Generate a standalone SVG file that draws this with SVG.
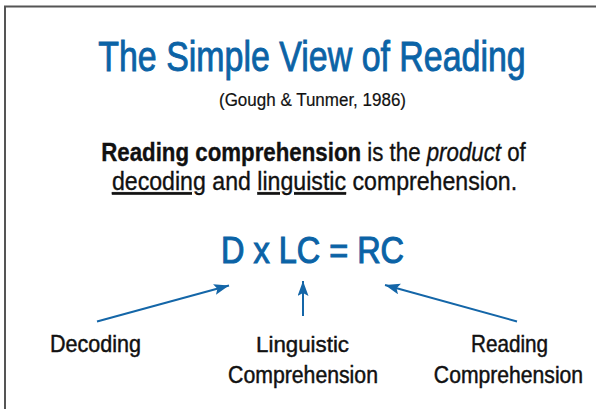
<svg xmlns="http://www.w3.org/2000/svg" width="596" height="409" viewBox="0 0 596 409">
  <style>
    .sans { font-family: "Liberation Sans", Arial, Helvetica, sans-serif; text-anchor: middle; }
    .title { font-size: 42px; fill: #0b63a6; stroke: #0b63a6; stroke-width: 0.9; }
    .cite { font-size: 19px; fill: #111; stroke: #111; stroke-width: 0.2; }
    .body { font-size: 26px; fill: #111; stroke: #111; stroke-width: 0.35; }
    .eq { font-size: 37px; fill: #0b63a6; stroke: #0b63a6; stroke-width: 1.1; }
    .label { font-size: 23px; fill: #111; stroke: #111; stroke-width: 0.45; }
    .u { text-decoration: underline; }
    .conn { stroke: #1466a8; stroke-width: 2; fill: none; }
  </style>
  <defs>
    <marker id="head" markerUnits="userSpaceOnUse" markerWidth="16" markerHeight="12" refX="15" refY="5.5" orient="auto">
      <path d="M0,0 L15,5.5 L0,11 L3,5.5 z" fill="#1466a8"/>
    </marker>
  </defs>

  <rect width="596" height="409" fill="#fff"/>
  <!-- slide frame (right and bottom edges run off the canvas) -->
  <rect x="5" y="6.5" width="700" height="500" fill="none" stroke="#555" stroke-width="2"/>

  <g id="heading" class="sans">
    <text class="title" transform="translate(312,71) scale(0.808,1)">The Simple View of Reading</text>
    <text class="cite" transform="translate(312.5,106) scale(0.895,1)">(Gough &amp; Tunmer, 1986)</text>
  </g>

  <g id="statement" class="sans">
    <text class="body" transform="translate(313.5,161) scale(0.857,1)"><tspan font-weight="bold">Reading comprehension</tspan> is the <tspan font-style="italic">product</tspan> of</text>
    <text class="body" transform="translate(314.5,190) scale(0.89,1)"><tspan class="u">decoding</tspan> and <tspan class="u">linguistic</tspan> comprehension.</text>
  </g>

  <g id="equation" class="sans">
    <text class="eq" transform="translate(312.5,263) scale(0.877,1)">D x LC = RC</text>
  </g>

  <g id="connectors">
    <line class="conn" x1="97" y1="321.5" x2="229" y2="285.5" marker-end="url(#head)"/>
    <line class="conn" x1="303" y1="316" x2="303" y2="281" marker-end="url(#head)"/>
    <line class="conn" x1="517" y1="321.5" x2="385" y2="285" marker-end="url(#head)"/>
  </g>

  <g id="decoding" class="sans">
    <text class="label" transform="translate(95.5,352) scale(0.936,1)">Decoding</text>
  </g>

  <g id="linguistic-comprehension" class="sans">
    <text class="label" transform="translate(302.5,352) scale(0.97,1)">Linguistic</text>
    <text class="label" transform="translate(303,383) scale(0.924,1)">Comprehension</text>
  </g>

  <g id="reading-comprehension" class="sans">
    <text class="label" transform="translate(509.5,352) scale(0.9,1)">Reading</text>
    <text class="label" transform="translate(508.5,383) scale(0.92,1)">Comprehension</text>
  </g>
</svg>
